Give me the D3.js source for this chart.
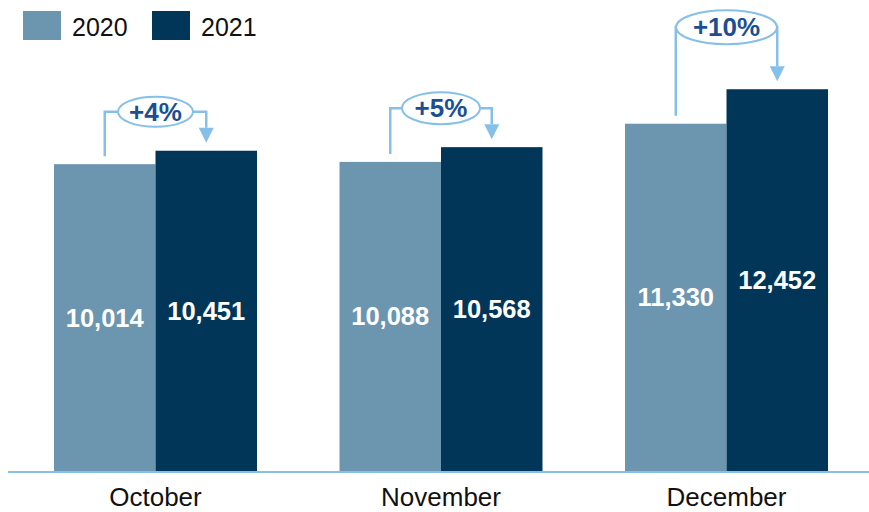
<!DOCTYPE html>
<html>
<head>
<meta charset="utf-8">
<script src="https://cdn.jsdelivr.net/npm/d3@7"></script>
<style>
  html, body { margin: 0; padding: 0; background: #ffffff; }
  svg { display: block; font-family: "Liberation Sans", Arial, sans-serif; }
</style>
</head>
<body>
<svg id="chart" width="869" height="512"></svg>
<script>
// Monthly totals, 2020 vs 2021
const months = ["October", "November", "December"];
const seriesNames = ["2020", "2021"];
const values2020 = [10014, 10088, 11330];
const values2021 = [10451, 10568, 12452];
const growthLabels = ["+4%", "+5%", "+10%"];

const colors = { "2020": "#6c95b0", "2021": "#023659" };
const accent = "#86c0e8";
const pctColor = "#1b4f93";

const svg = d3.select("#chart");
const W = 869, baseY = 472;

const x = d3.scaleBand().domain(months).range([54, 828]).paddingInner(0.289).paddingOuter(0);
const xs = d3.scaleBand().domain(seriesNames).range([0, x.bandwidth()]).padding(0);
const y = d3.scaleLinear().domain([0, 15355]).range([baseY, 0]);

const rows = months.map((m, i) => ({ month: m, v: { "2020": values2020[i], "2021": values2021[i] }, pct: growthLabels[i] }));

// bars
const groups = svg.selectAll("g.month").data(rows).join("g")
  .attr("class", "month")
  .attr("transform", d => `translate(${x(d.month)},0)`);

groups.selectAll("rect").data(d => seriesNames.map(s => ({ s, v: d.v[s] }))).join("rect")
  .attr("x", d => xs(d.s))
  .attr("y", d => y(d.v))
  .attr("width", xs.bandwidth())
  .attr("height", d => baseY - y(d.v))
  .attr("fill", d => colors[d.s]);

// value labels, centred inside each bar
groups.selectAll("text.val").data(d => seriesNames.map(s => ({ s, v: d.v[s] }))).join("text")
  .attr("class", "val")
  .attr("x", d => xs(d.s) + xs.bandwidth() / 2)
  .attr("y", d => (y(d.v) + baseY) / 2 + 8.5)
  .attr("text-anchor", "middle")
  .attr("fill", "#ffffff")
  .attr("font-weight", "bold")
  .attr("font-size", 25.5)
  .text(d => d3.format(",")(d.v));

// baseline
svg.append("line")
  .attr("x1", 8).attr("x2", W)
  .attr("y1", baseY).attr("y2", baseY)
  .attr("stroke", accent).attr("stroke-width", 2);

// month labels
svg.selectAll("text.cat").data(months).join("text")
  .attr("class", "cat")
  .attr("x", d => x(d) + x.bandwidth() / 2)
  .attr("y", 506)
  .attr("text-anchor", "middle")
  .attr("font-size", 26)
  .attr("fill", "#111111")
  .text(d => d);

// growth callouts: bracket from the 2020 bar to an arrow on the 2021 bar
const calloutLift = [39, 39, 62];
const calloutRx = [37.5, 39, 50.5];
const calloutRy = [15, 16, 17];

rows.forEach((d, i) => {
  const g = svg.append("g");
  const cx1 = x(d.month) + xs("2020") + xs.bandwidth() / 2;
  const cx2 = x(d.month) + xs("2021") + xs.bandwidth() / 2;
  const top1 = y(d.v["2020"]);
  const top2 = y(d.v["2021"]);
  const ey = top2 - calloutLift[i];
  const ex = (cx1 + cx2) / 2;
  const rx = calloutRx[i], ry = calloutRy[i];
  const tipY = top2 - 8;
  const headH = 15, headW = 7.5;

  g.append("path")
    .attr("d", `M${cx1},${top1 - 8} V${ey} H${ex - rx} M${ex + rx},${ey} H${cx2} V${tipY - headH}`)
    .attr("fill", "none").attr("stroke", accent).attr("stroke-width", 2.5);
  g.append("path")
    .attr("d", `M${cx2 - headW},${tipY - headH} L${cx2 + headW},${tipY - headH} L${cx2},${tipY} Z`)
    .attr("fill", accent);
  g.append("ellipse")
    .attr("cx", ex).attr("cy", ey).attr("rx", rx).attr("ry", ry)
    .attr("fill", "#ffffff").attr("stroke", accent).attr("stroke-width", 2);
  g.append("text")
    .attr("x", ex).attr("y", ey + 9)
    .attr("text-anchor", "middle")
    .attr("font-weight", "bold")
    .attr("font-size", 26)
    .attr("fill", pctColor)
    .text(d.pct);
});

// legend
const legend = svg.append("g");
const legendX = [23, 152];
seriesNames.forEach((s, i) => {
  legend.append("rect")
    .attr("x", legendX[i]).attr("y", 11).attr("width", 38).attr("height", 29)
    .attr("fill", colors[s]);
  legend.append("text")
    .attr("x", legendX[i] + 49).attr("y", 36)
    .attr("font-size", 25).attr("fill", "#111111")
    .text(s);
});
</script>
</body>
</html>
